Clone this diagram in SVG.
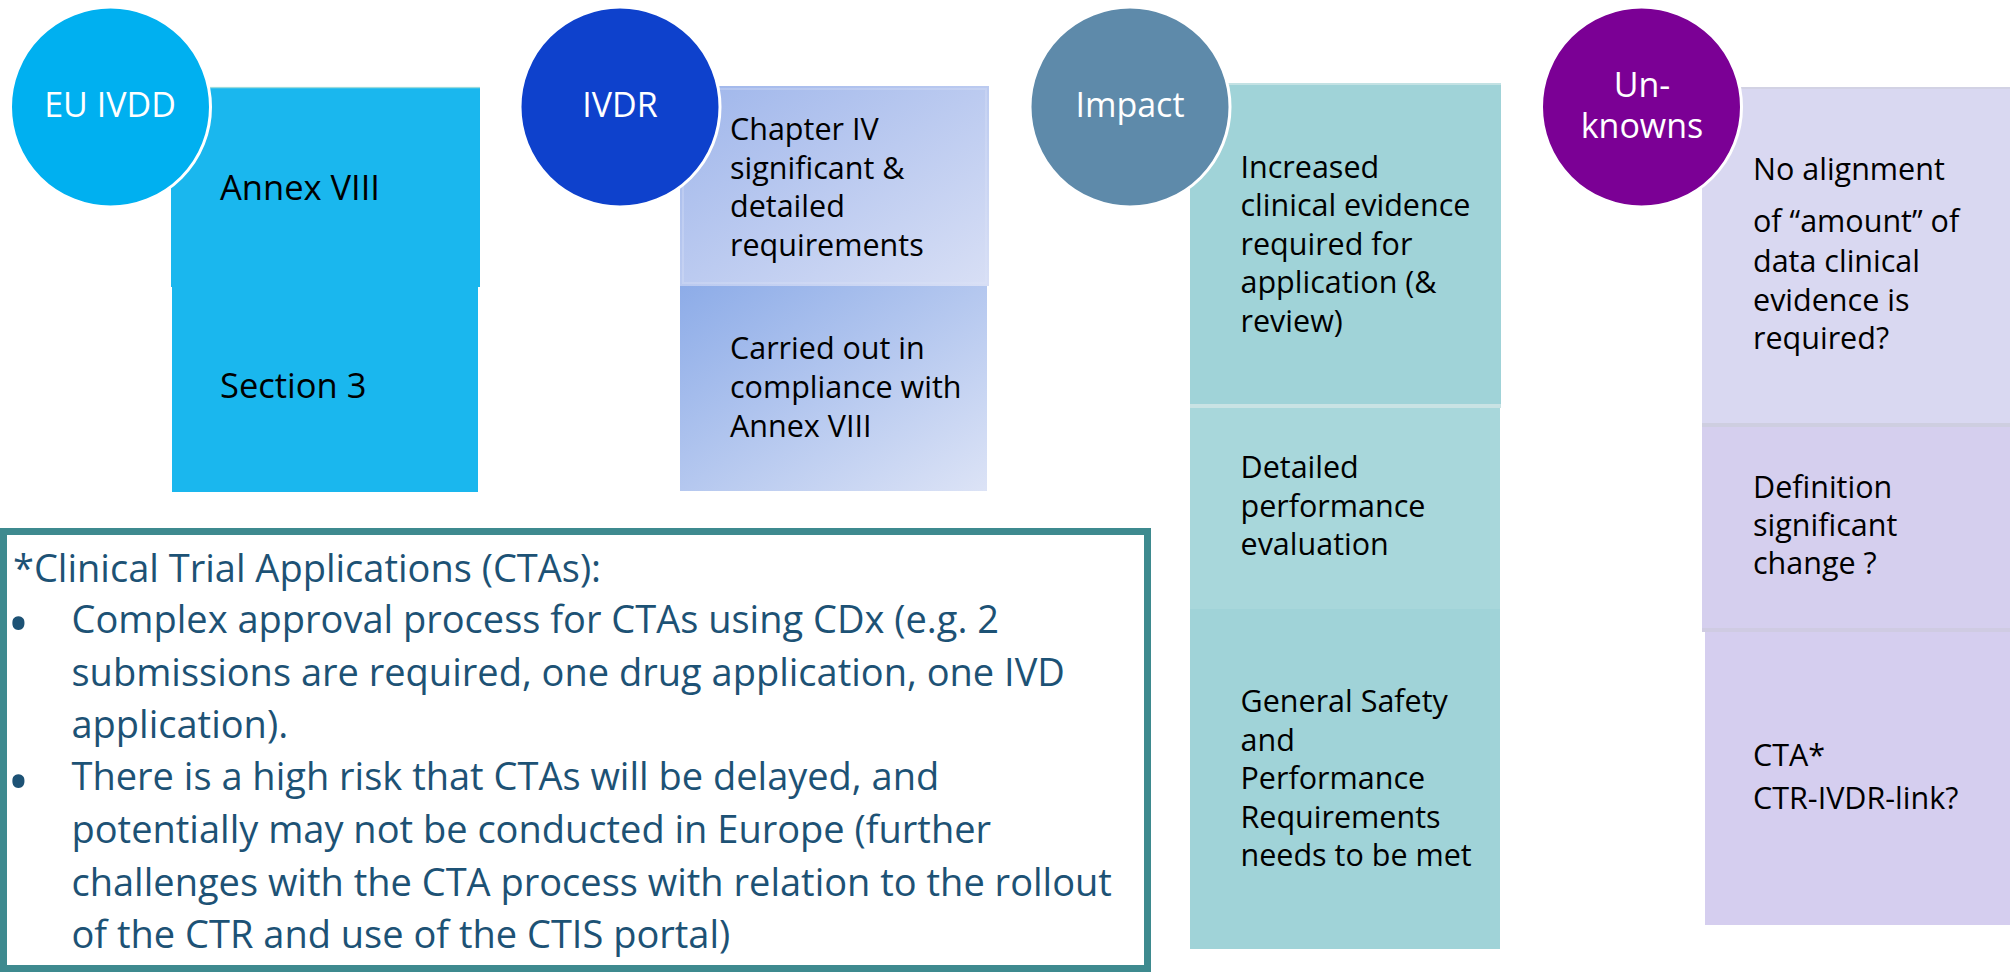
<svg xmlns="http://www.w3.org/2000/svg" width="2015" height="972" viewBox="0 0 2015 972">
  <defs>
    <linearGradient id="ivdrTop" x1="0" y1="0" x2="1" y2="1">
      <stop offset="0" stop-color="#9FB6EB"/>
      <stop offset="1" stop-color="#D8DFF5"/>
    </linearGradient>
    <linearGradient id="ivdrBottom" x1="0" y1="0" x2="1" y2="1">
      <stop offset="0" stop-color="#8DACE8"/>
      <stop offset="1" stop-color="#DCE3F6"/>
    </linearGradient>
  </defs>
  <style>
    text { font-family: "Open Sans", "Noto Sans", sans-serif; }
    .head { fill: #ffffff; font-size: 34px; text-anchor: middle; }
    .ring { stroke: #ffffff; stroke-width: 3; }
    .big { fill: #000000; font-size: 34.5px; }
    .item { fill: #000000; font-size: 30.5px; }
    .note { fill: #1D5275; font-size: 38px; }
    .dot { fill: #1D5275; font-size: 58px; text-anchor: middle; }
    .seam { stroke-width: 4; }
  </style>

  <rect width="2015" height="972" fill="#ffffff"/>

  <!-- EU IVDD column -->
  <g id="eu-ivdd">
    <rect x="171" y="87" width="309" height="200" fill="#1AB7EE"/>
    <rect x="172" y="287" width="306" height="205" fill="#1AB7EE"/>
    <line x1="171" y1="87.5" x2="480" y2="87.5" stroke="#CFEAD8" stroke-width="1.5" opacity="0.7"/>
    <text class="big" x="220" y="200">Annex VIII</text>
    <text class="big" x="220" y="398">Section 3</text>
    <circle class="ring" cx="110.5" cy="107" r="100" fill="#00B0F0"/>
    <text class="head" x="110" y="117">EU IVDD</text>
  </g>

  <!-- IVDR column -->
  <g id="ivdr">
    <rect x="680" y="86" width="309" height="200" fill="url(#ivdrTop)"/>
    <rect x="683" y="89" width="303" height="194" fill="none" stroke="#DDE6F7" stroke-width="2" opacity="0.3"/>
    <rect x="680" y="286" width="307" height="205" fill="url(#ivdrBottom)"/>
    <text class="item" x="730" y="140">Chapter IV</text>
    <text class="item" x="730" y="178.5">significant &amp;</text>
    <text class="item" x="730" y="217">detailed</text>
    <text class="item" x="730" y="255.5">requirements</text>
    <text class="item" x="730" y="359">Carried out in</text>
    <text class="item" x="730" y="398">compliance with</text>
    <text class="item" x="730" y="437">Annex VIII</text>
    <circle class="ring" cx="620" cy="107" r="100" fill="#0E41CC"/>
    <text class="head" x="620" y="117">IVDR</text>
  </g>

  <!-- Impact column -->
  <g id="impact">
    <rect x="1190" y="83" width="311" height="323" fill="#A0D3D8"/>
    <rect x="1190" y="406" width="310" height="203" fill="#A8D7DB"/>
    <rect x="1190" y="609" width="310" height="340" fill="#A0D3D8"/>
    <line class="seam" x1="1190" y1="406" x2="1501" y2="406" stroke="#C9E3E4"/>
    <line x1="1190" y1="84" x2="1501" y2="84" stroke="#C3E2E4" stroke-width="2"/>
    <text class="item" x="1240.5" y="177.5">Increased</text>
    <text class="item" x="1240.5" y="216">clinical evidence</text>
    <text class="item" x="1240.5" y="254.5">required for</text>
    <text class="item" x="1240.5" y="293">application (&amp;</text>
    <text class="item" x="1240.5" y="331.5">review)</text>
    <text class="item" x="1240.5" y="478">Detailed</text>
    <text class="item" x="1240.5" y="516.5">performance</text>
    <text class="item" x="1240.5" y="555">evaluation</text>
    <text class="item" x="1240.5" y="712">General Safety</text>
    <text class="item" x="1240.5" y="750.5">and</text>
    <text class="item" x="1240.5" y="789">Performance</text>
    <text class="item" x="1240.5" y="827.5">Requirements</text>
    <text class="item" x="1240.5" y="866">needs to be met</text>
    <circle class="ring" cx="1130" cy="107" r="100" fill="#5E8AAA"/>
    <text class="head" x="1130" y="117">Impact</text>
  </g>

  <!-- Unknowns column -->
  <g id="unknowns">
    <rect x="1702" y="87" width="308" height="339" fill="#D9D8F1"/>
    <rect x="1702" y="426" width="308" height="204" fill="#D5CFEE"/>
    <rect x="1705" y="630" width="305" height="295" fill="#D5CEEF"/>
    <line class="seam" x1="1702" y1="425" x2="2010" y2="425" stroke="#CECEE0"/>
    <line class="seam" x1="1702" y1="630" x2="2010" y2="630" stroke="#CFCBE2"/>
    <line x1="1702" y1="88" x2="2010" y2="88" stroke="#D2D2E4" stroke-width="2"/>
    <text class="item" x="1753" y="180">No alignment</text>
    <text class="item" x="1753" y="232">of “amount” of</text>
    <text class="item" x="1753" y="271.5">data clinical</text>
    <text class="item" x="1753" y="310.5">evidence is</text>
    <text class="item" x="1753" y="349">required?</text>
    <text class="item" x="1753" y="498">Definition</text>
    <text class="item" x="1753" y="536">significant</text>
    <text class="item" x="1753" y="573.5">change ?</text>
    <text class="item" x="1753" y="765.5">CTA*</text>
    <text class="item" x="1753" y="808.5">CTR-IVDR-link?</text>
    <circle class="ring" cx="1641.5" cy="107" r="100" fill="#7B0095"/>
    <text class="head" x="1642" y="97">Un-</text>
    <text class="head" x="1642" y="138">knowns</text>
  </g>

  <!-- Footnote on clinical trial applications -->
  <g id="cta-note">
    <rect x="3.5" y="531.5" width="1144" height="437" fill="#ffffff" stroke="#3E8A8F" stroke-width="7"/>
    <text class="note" x="13" y="582">*Clinical Trial Applications (CTAs):</text>
    <text class="dot" x="18.5" y="645">•</text>
    <text class="note" x="71.5" y="633">Complex approval process for CTAs using CDx (e.g. 2</text>
    <text class="note" x="71.5" y="686">submissions are required, one drug application, one IVD</text>
    <text class="note" x="71.5" y="738">application).</text>
    <text class="dot" x="18.5" y="803">•</text>
    <text class="note" x="71.5" y="790">There is a high risk that CTAs will be delayed, and</text>
    <text class="note" x="71.5" y="843">potentially may not be conducted in Europe (further</text>
    <text class="note" x="71.5" y="896">challenges with the CTA process with relation to the rollout</text>
    <text class="note" x="71.5" y="948">of the CTR and use of the CTIS portal)</text>
  </g>
</svg>
